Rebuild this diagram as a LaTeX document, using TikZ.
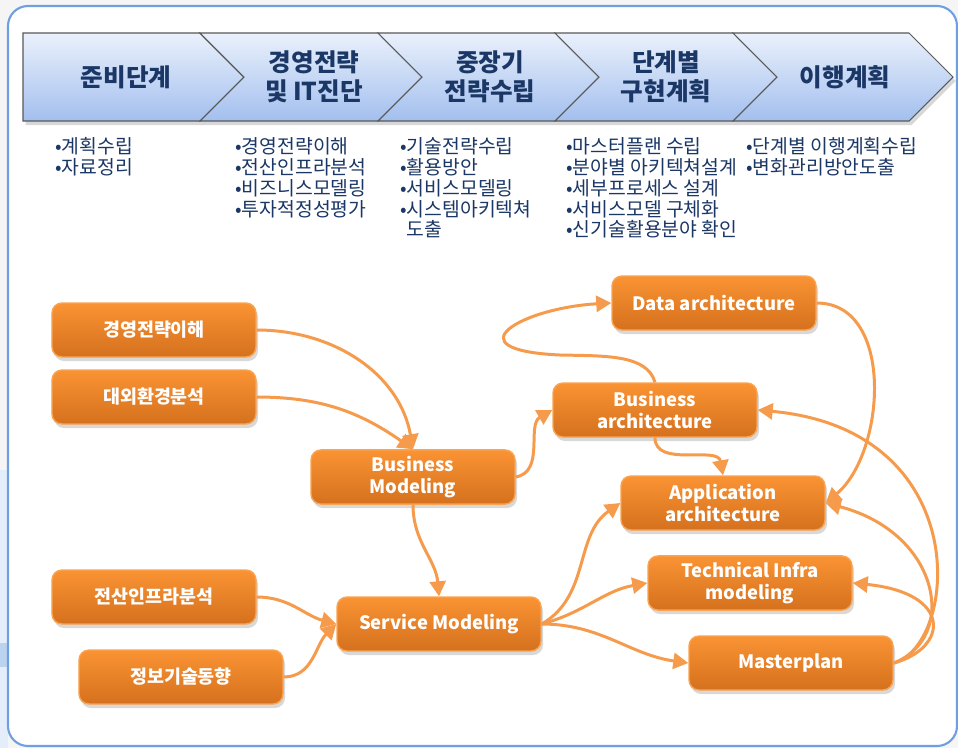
\documentclass[tikz,border=0pt]{standalone}
\usepackage{fontspec}
\setmainfont{Noto Sans CJK KR}
\usepackage{tikz}
\usetikzlibrary{arrows.meta, shadows}
\definecolor{PhaseNavy}{HTML}{1B3765}
\definecolor{PhaseTop}{HTML}{EAF1FC}
\definecolor{PhaseBottom}{HTML}{A3BFEE}
\definecolor{TaskTop}{HTML}{FA9333}
\definecolor{TaskBottom}{HTML}{D5711E}
\definecolor{TaskEdge}{HTML}{F9A452}
\definecolor{FlowOrange}{HTML}{F69A4C}
\definecolor{FrameBlue}{HTML}{6E9FE0}
\definecolor{SidePale}{HTML}{E4EEFA}
\definecolor{SideBlue}{HTML}{BCD3F0}
\tikzset{
    phasebox/.style={draw=black!65, line width=0.6pt, top color=PhaseTop, bottom color=PhaseBottom,
        drop shadow={opacity=0.3, shadow xshift=0.5mm, shadow yshift=-0.8mm}},
    phasetitle/.style={font=\fontsize{14}{16.5}\selectfont\bfseries, text=PhaseNavy,
        align=center},
    phasenote/.style={anchor=north west, inner sep=0pt, align=left, text=PhaseNavy,
        font=\fontsize{11}{11.9}\selectfont},
    taskbox/.style={rectangle, rounded corners=2mm, draw=TaskEdge, line width=0.8pt,
        top color=TaskTop, bottom color=TaskBottom, minimum width=4.08cm, minimum height=1.08cm,
        text=white, align=center, font=\fontsize{10.5}{12.9}\selectfont\bfseries,
        drop shadow={opacity=0.3, shadow xshift=0.4mm, shadow yshift=-0.8mm}},
    flowarrow/.style={-{Triangle[length=3mm, width=3.2mm]}, line width=1.7pt, FlowOrange},
}

\begin{document}
\begin{tikzpicture}[x=0.2mm, y=-0.2mm]
    \useasboundingbox (0,0) rectangle (958,748);
    \fill[black!4] (0,0) rectangle (958,748);
    \fill[SidePale] (0,470) rectangle (8,748);
    \fill[SideBlue] (0,643) rectangle (8,667);
    \draw[FrameBlue, line width=1.2pt, fill=white, rounded corners=4mm] (8,6) rectangle (957,746);

    \path[phasebox] (23,33) -- (200,33) -- (244,77) -- (200,121) -- (23,121) -- cycle;
    \path[phasebox] (200,33) -- (378,33) -- (422,77) -- (378,121) -- (200,121) -- (244,77) -- cycle;
    \path[phasebox] (378,33) -- (555,33) -- (599,77) -- (555,121) -- (378,121) -- (422,77) -- cycle;
    \path[phasebox] (555,33) -- (733,33) -- (777,77) -- (733,121) -- (555,121) -- (599,77) -- cycle;
    \path[phasebox] (733,33) -- (909,33) -- (953,77) -- (909,121) -- (733,121) -- (777,77) -- cycle;

    \node[phasetitle] (prep) at (126,77) {준비단계};
    \node[phasetitle] (diag) at (314,77) {경영전략\\및 IT진단};
    \node[phasetitle] (midterm) at (490,77) {중장기\\전략수립};
    \node[phasetitle] (design) at (666,77) {단계별\\구현계획};
    \node[phasetitle] (rollout) at (845,77) {이행계획};

    \node[phasenote] (prepnote) at (55,137) {•계획수립\\•자료정리};
    \node[phasenote] (diagnote) at (235,137) {•경영전략이해\\•전산인프라분석\\•비즈니스모델링\\•투자적정성평가};
    \node[phasenote] (midnote) at (400,137) {•기술전략수립\\•활용방안\\•서비스모델링\\•시스템아키텍쳐\\\phantom{•}도출};
    \node[phasenote] (designnote) at (566,137) {•마스터플랜 수립\\•분야별 아키텍쳐설계\\•세부프로세스 설계\\•서비스모델 구체화\\•신기술활용분야 확인};
    \node[phasenote] (rolloutnote) at (746,137) {•단계별 이행계획수립\\•변화관리방안도출};

    \node[taskbox] (strat) at (154,330) {경영전략이해};
    \node[taskbox] (envir) at (154,397) {대외환경분석};
    \node[taskbox] (infra) at (154,597) {전산인프라분석};
    \node[taskbox] (ittrend) at (181,677) {정보기술동향};
    \node[taskbox] (bizmod) at (413,477) {Business\\Modeling};
    \node[taskbox] (svcmod) at (439,624) {Service Modeling};
    \node[taskbox] (dataarch) at (714,303) {Data architecture};
    \node[taskbox] (bizarch) at (655,410) {Business\\architecture};
    \node[taskbox] (apparch) at (723,503) {Application\\architecture};
    \node[taskbox] (techinfra) at (750,583) {Technical Infra\\modeling};
    \node[taskbox] (masterplan) at (791,663) {Masterplan};

    \draw[flowarrow] (strat.east) to[out=0, in=100] (bizmod.north);
    \draw[flowarrow] (envir.east) to[out=0, in=145] (bizmod.north);
    \draw[flowarrow] (bizmod.south) to[out=-90, in=95] (svcmod.north);
    \draw[flowarrow] (infra.east) to[out=0, in=165] (svcmod.west);
    \draw[flowarrow] (ittrend.east) to[out=0, in=-135] (svcmod.west);
    \draw[flowarrow] (bizmod.east) to[out=10, in=210] (bizarch.west);
    \draw[flowarrow] (bizarch.north) .. controls +(-8,-28) and +(45,1) .. (560,355)
        .. controls +(-110,-5) and +(-90,5) .. (dataarch.west);
    \draw[flowarrow] (bizarch.south) to[out=-90, in=100] (apparch.north);
    \draw[flowarrow] (dataarch.east) to[out=0, in=40] (apparch.east);
    \draw[flowarrow] (svcmod.east) to[out=30, in=215] (apparch.west);
    \draw[flowarrow] (svcmod.east) to[out=15, in=190] (techinfra.west);
    \draw[flowarrow] (svcmod.east) to[out=0, in=172] (masterplan.west);
    \draw[flowarrow] (masterplan.east) .. controls +(65,-18) and +(218,20) .. (bizarch.east);
    \draw[flowarrow] (masterplan.east) .. controls +(65,-25) and +(115,30) .. (apparch.east);
    \draw[flowarrow] (masterplan.east) .. controls +(55,-15) and +(100,10) .. (techinfra.east);
\end{tikzpicture}
\end{document}
